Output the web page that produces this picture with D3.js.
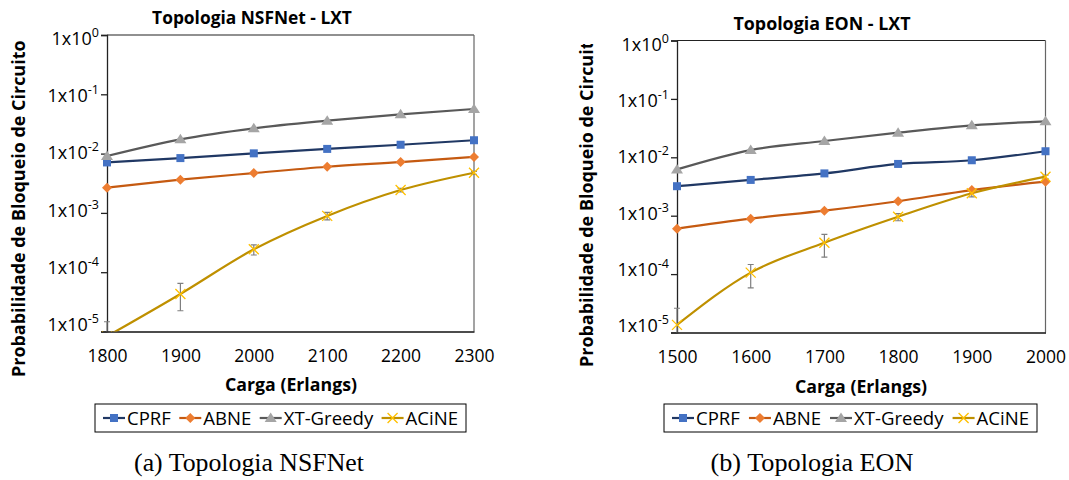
<!DOCTYPE html>
<html>
<head>
<meta charset="utf-8">
<script src="https://cdn.jsdelivr.net/npm/d3@7"></script>
<style>
  body { margin: 0; background: #fff; }
  text { font-family: "Open Sans", Lato, sans-serif; }
</style>
</head>
<body>
<div id="fig"></div>
<script>
// series data
var seriesNames = ["CPRF", "ABNE", "XT-Greedy", "ACiNE"];
var yTicks = [1, 1e-1, 1e-2, 1e-3, 1e-4, 1e-5];

var nsfLoads = [1800, 1900, 2000, 2100, 2200, 2300];
var nsfCPRF = [7.1e-3, 8.4e-3, 1.01e-2, 1.2e-2, 1.41e-2, 1.68e-2];
var nsfABNE = [2.66e-3, 3.63e-3, 4.7e-3, 6.0e-3, 7.2e-3, 8.8e-3];
var nsfXT = [9.1e-3, 1.74e-2, 2.67e-2, 3.59e-2, 4.6e-2, 5.65e-2];
var nsfACiNE = [8.3e-6, 4.3e-5, 2.43e-4, 8.9e-4, 2.43e-3, 4.76e-3];
var nsfACiNELow = [4.7e-6, 2.24e-5, 1.95e-4, 7.6e-4, 2.25e-3, 4.45e-3];
var nsfACiNEHigh = [1.46e-5, 6.5e-5, 2.88e-4, 1.02e-3, 2.6e-3, 5.0e-3];

var eonLoads = [1500, 1600, 1700, 1800, 1900, 2000];
var eonCPRF = [3.2e-3, 4.1e-3, 5.3e-3, 7.7e-3, 8.9e-3, 1.27e-2];
var eonABNE = [6.0e-4, 8.9e-4, 1.22e-3, 1.77e-3, 2.75e-3, 3.82e-3];
var eonXT = [6.2e-3, 1.33e-2, 1.9e-2, 2.64e-2, 3.53e-2, 4.13e-2];
var eonACiNE = [1.35e-5, 1.06e-4, 3.45e-4, 9.6e-4, 2.42e-3, 4.66e-3];
var eonACiNELow = [6e-6, 5.8e-5, 1.95e-4, 8.2e-4, 2.1e-3, 4.3e-3];
var eonACiNEHigh = [2.6e-5, 1.46e-4, 4.8e-4, 1.09e-3, 2.65e-3, 4.95e-3];

var lineColors = ["#203864", "#c55a11", "#595959", "#bf9000"];
var markColors = ["#4472c4", "#ed7d31", "#a5a5a5", "#ffc000"];

var svg = d3.select("#fig").append("svg")
    .attr("width", 1069)
    .attr("height", 480);

svg.append("rect").attr("width", 1069).attr("height", 480).attr("fill", "#fff");

// scale a text's font so it spans w pixels
function fitWidth(t, w) {
  var cur = t.node().getComputedTextLength();
  var fs = parseFloat(t.style("font-size"));
  t.style("font-size", (fs * w / cur).toFixed(2) + "px");
}

function drawMarker(g, kind, cx, cy) {
  if (kind == 0) {
    g.append("rect").attr("x", cx - 4).attr("y", cy - 4).attr("width", 8).attr("height", 8)
      .attr("fill", markColors[0]);
  } else if (kind == 1) {
    g.append("path").attr("d", "M" + cx + "," + (cy - 5) + "L" + (cx + 5) + "," + cy + "L" + cx + "," + (cy + 5) + "L" + (cx - 5) + "," + cy + "Z")
      .attr("fill", markColors[1]);
  } else if (kind == 2) {
    g.append("path").attr("d", "M" + cx + "," + (cy - 5.5) + "L" + (cx + 6) + "," + (cy + 4) + "L" + (cx - 6) + "," + (cy + 4) + "Z")
      .attr("fill", markColors[2]);
  } else {
    g.append("path").attr("d", "M" + (cx - 5) + "," + (cy - 5) + "L" + (cx + 5) + "," + (cy + 5) + "M" + (cx + 5) + "," + (cy - 5) + "L" + (cx - 5) + "," + (cy + 5))
      .attr("stroke", markColors[3]).attr("stroke-width", 1.3).attr("fill", "none");
  }
}

function drawChart(c) {
  var x = d3.scaleLinear().domain([c.loads[0], c.loads[c.loads.length - 1]]).range([c.x0, c.x1]);
  var y = d3.scaleLog().domain([1e-5, 1]).range([c.yBot, c.yTop]);

  var clipId = "clip" + c.id;
  svg.append("clipPath").attr("id", clipId)
    .append("rect")
      .attr("x", c.x0 - 10).attr("y", c.yTop)
      .attr("width", c.x1 - c.x0 + 20).attr("height", c.yBot - c.yTop);

  // plot border
  svg.append("line").attr("x1", c.x0).attr("x2", c.x1).attr("y1", c.yTop).attr("y2", c.yTop)
    .attr("stroke", "#222").attr("stroke-width", 1.2);
  svg.append("line").attr("x1", c.x1).attr("x2", c.x1).attr("y1", c.yTop).attr("y2", c.yBot)
    .attr("stroke", "#666").attr("stroke-width", 1.2);

  // y axis
  svg.append("g")
    .attr("transform", "translate(" + c.x0 + ",0)")
    .call(d3.axisLeft(y).tickValues(yTicks).tickSize(6).tickFormat(""))
    .call(g => g.selectAll("path,line").attr("stroke", "#222").attr("stroke-width", 1.3));

  yTicks.forEach(function(t) {
    var yy = y(t);
    var lab = svg.append("text")
      .attr("x", c.x0 - 8)
      .attr("y", yy + 10 - (yy - c.yTop) * 0.035)
      .attr("text-anchor", "end")
      .style("font-size", "18px")
      .attr("fill", "#000");
    lab.append("tspan").text("1x10");
    lab.append("tspan").attr("dy", -8).style("font-size", "12.5px")
      .text(String(Math.round(Math.log10(t))));
  });

  // x axis
  svg.append("g")
    .attr("transform", "translate(0," + c.yBot + ")")
    .call(d3.axisBottom(x).tickValues(c.loads).tickSize(0).tickPadding(18).tickFormat(d3.format("d")))
    .call(g => g.select(".domain").attr("stroke", "#111").attr("stroke-width", 1.3))
    .call(g => g.selectAll("text").style("font-size", "17.5px").style("font-family", "'Open Sans'").attr("fill", "#000"));

  var plot = svg.append("g").attr("clip-path", "url(#" + clipId + ")");

  var line = d3.line()
    .x(function(d, i) { return x(c.loads[i]); })
    .y(function(d) { return y(d); })
    .curve(d3.curveMonotoneX);

  c.series.forEach(function(s, k) {
    plot.append("path")
      .datum(s)
      .attr("fill", "none")
      .attr("stroke", lineColors[k])
      .attr("stroke-width", 2.2);
  });
  plot.selectAll("path").attr("d", line);

  // error bars of ACiNE
  c.loads.forEach(function(L, i) {
    var xx = x(L);
    var eb = plot.append("g").attr("stroke", "#7f7f7f").attr("stroke-width", 1.2);
    eb.append("line").attr("x1", xx).attr("x2", xx).attr("y1", y(c.errLow[i])).attr("y2", y(c.errHigh[i]));
    eb.append("line").attr("x1", xx - 3).attr("x2", xx + 3).attr("y1", y(c.errLow[i])).attr("y2", y(c.errLow[i]));
    eb.append("line").attr("x1", xx - 3).attr("x2", xx + 3).attr("y1", y(c.errHigh[i])).attr("y2", y(c.errHigh[i]));
  });

  c.series.forEach(function(s, k) {
    s.forEach(function(v, i) {
      drawMarker(plot, k, x(c.loads[i]), y(v));
    });
  });

  // title
  var title = svg.append("text")
    .attr("x", c.titleX).attr("y", c.titleY)
    .attr("text-anchor", "middle")
    .style("font-size", "16px").style("font-weight", "bold")
    .text(c.title);
  fitWidth(title, c.titleW);

  // y label
  var ylabClip = "ylab" + c.id;
  svg.append("clipPath").attr("id", ylabClip)
    .append("rect").attr("x", c.yLabX - 15).attr("y", c.yLabClipTop).attr("width", 30).attr("height", 400);
  var ylab = svg.append("g").attr("clip-path", "url(#" + ylabClip + ")")
    .append("text")
      .attr("transform", "translate(" + c.yLabX + "," + c.yLabBottom + ") rotate(-90)")
      .attr("dy", "0.35em")
      .attr("text-anchor", "start")
      .style("font-size", "16px").style("font-weight", "bold")
      .text("Probabilidade de Bloqueio de Circuito");
  fitWidth(ylab, 337);

  // x label
  var xlab = svg.append("text")
    .attr("x", c.xLabX).attr("y", c.xLabY)
    .attr("text-anchor", "middle")
    .style("font-size", "16px").style("font-weight", "bold")
    .text("Carga (Erlangs)");
  fitWidth(xlab, 132);

  // legend
  var lg = svg.append("g");
  lg.append("rect")
    .attr("x", c.legX0).attr("y", 404).attr("width", c.legX1 - c.legX0).attr("height", 28)
    .attr("fill", "#fff").attr("stroke", "#000").attr("stroke-width", 1);
  var items = [];
  var texts = [];
  var textTotal = 0;
  seriesNames.forEach(function(n, k) {
    var it = lg.append("g");
    it.append("line").attr("x1", 0).attr("x2", 22).attr("y1", 0).attr("y2", 0)
      .attr("stroke", lineColors[k]).attr("stroke-width", 2.2);
    drawMarker(it, k, 11, 0);
    var t = it.append("text").attr("x", 24).attr("dy", "0.36em")
      .style("font-size", "16px").text(n);
    textTotal += t.node().getComputedTextLength();
    items.push(it);
    texts.push(t);
  });
  var fs = 16 * 234 / textTotal;
  var total = 0;
  var widths = texts.map(function(t) {
    t.style("font-size", fs.toFixed(2) + "px");
    var w = 24 + t.node().getComputedTextLength();
    total += w;
    return w;
  });
  var gap = (c.legX1 - c.legX0 - 16 - total) / 3;
  var px = c.legX0 + 8;
  items.forEach(function(it, k) {
    it.attr("transform", "translate(" + px + ",418)");
    px += widths[k] + gap;
  });

  // caption
  var cap = svg.append("text")
    .attr("x", c.capX).attr("y", 471)
    .attr("text-anchor", "middle")
    .style("font-family", "'Liberation Serif', 'DejaVu Serif', serif")
    .style("font-size", "22px")
    .text(c.caption);
  fitWidth(cap, c.capW);
}

drawChart({
  id: "a", loads: nsfLoads,
  series: [nsfCPRF, nsfABNE, nsfXT, nsfACiNE],
  errLow: nsfACiNELow, errHigh: nsfACiNEHigh,
  x0: 107, x1: 474, yTop: 35, yBot: 331.5,
  title: "Topologia NSFNet - LXT", titleX: 252, titleY: 24, titleW: 200,
  yLabX: 19, yLabBottom: 377, yLabClipTop: 30,
  xLabX: 291, xLabY: 391,
  legX0: 95, legX1: 466,
  caption: "(a) Topologia NSFNet", capX: 249, capW: 230
});

drawChart({
  id: "b", loads: eonLoads,
  series: [eonCPRF, eonABNE, eonXT, eonACiNE],
  errLow: eonACiNELow, errHigh: eonACiNEHigh,
  x0: 677, x1: 1045.5, yTop: 40.5, yBot: 332.5,
  title: "Topologia EON - LXT", titleX: 822, titleY: 30, titleW: 177,
  yLabX: 587, yLabBottom: 367, yLabClipTop: 44,
  xLabX: 861, xLabY: 393,
  legX0: 664, legX1: 1037,
  caption: "(b) Topologia EON", capX: 812, capW: 203
});
</script>
</body>
</html>
